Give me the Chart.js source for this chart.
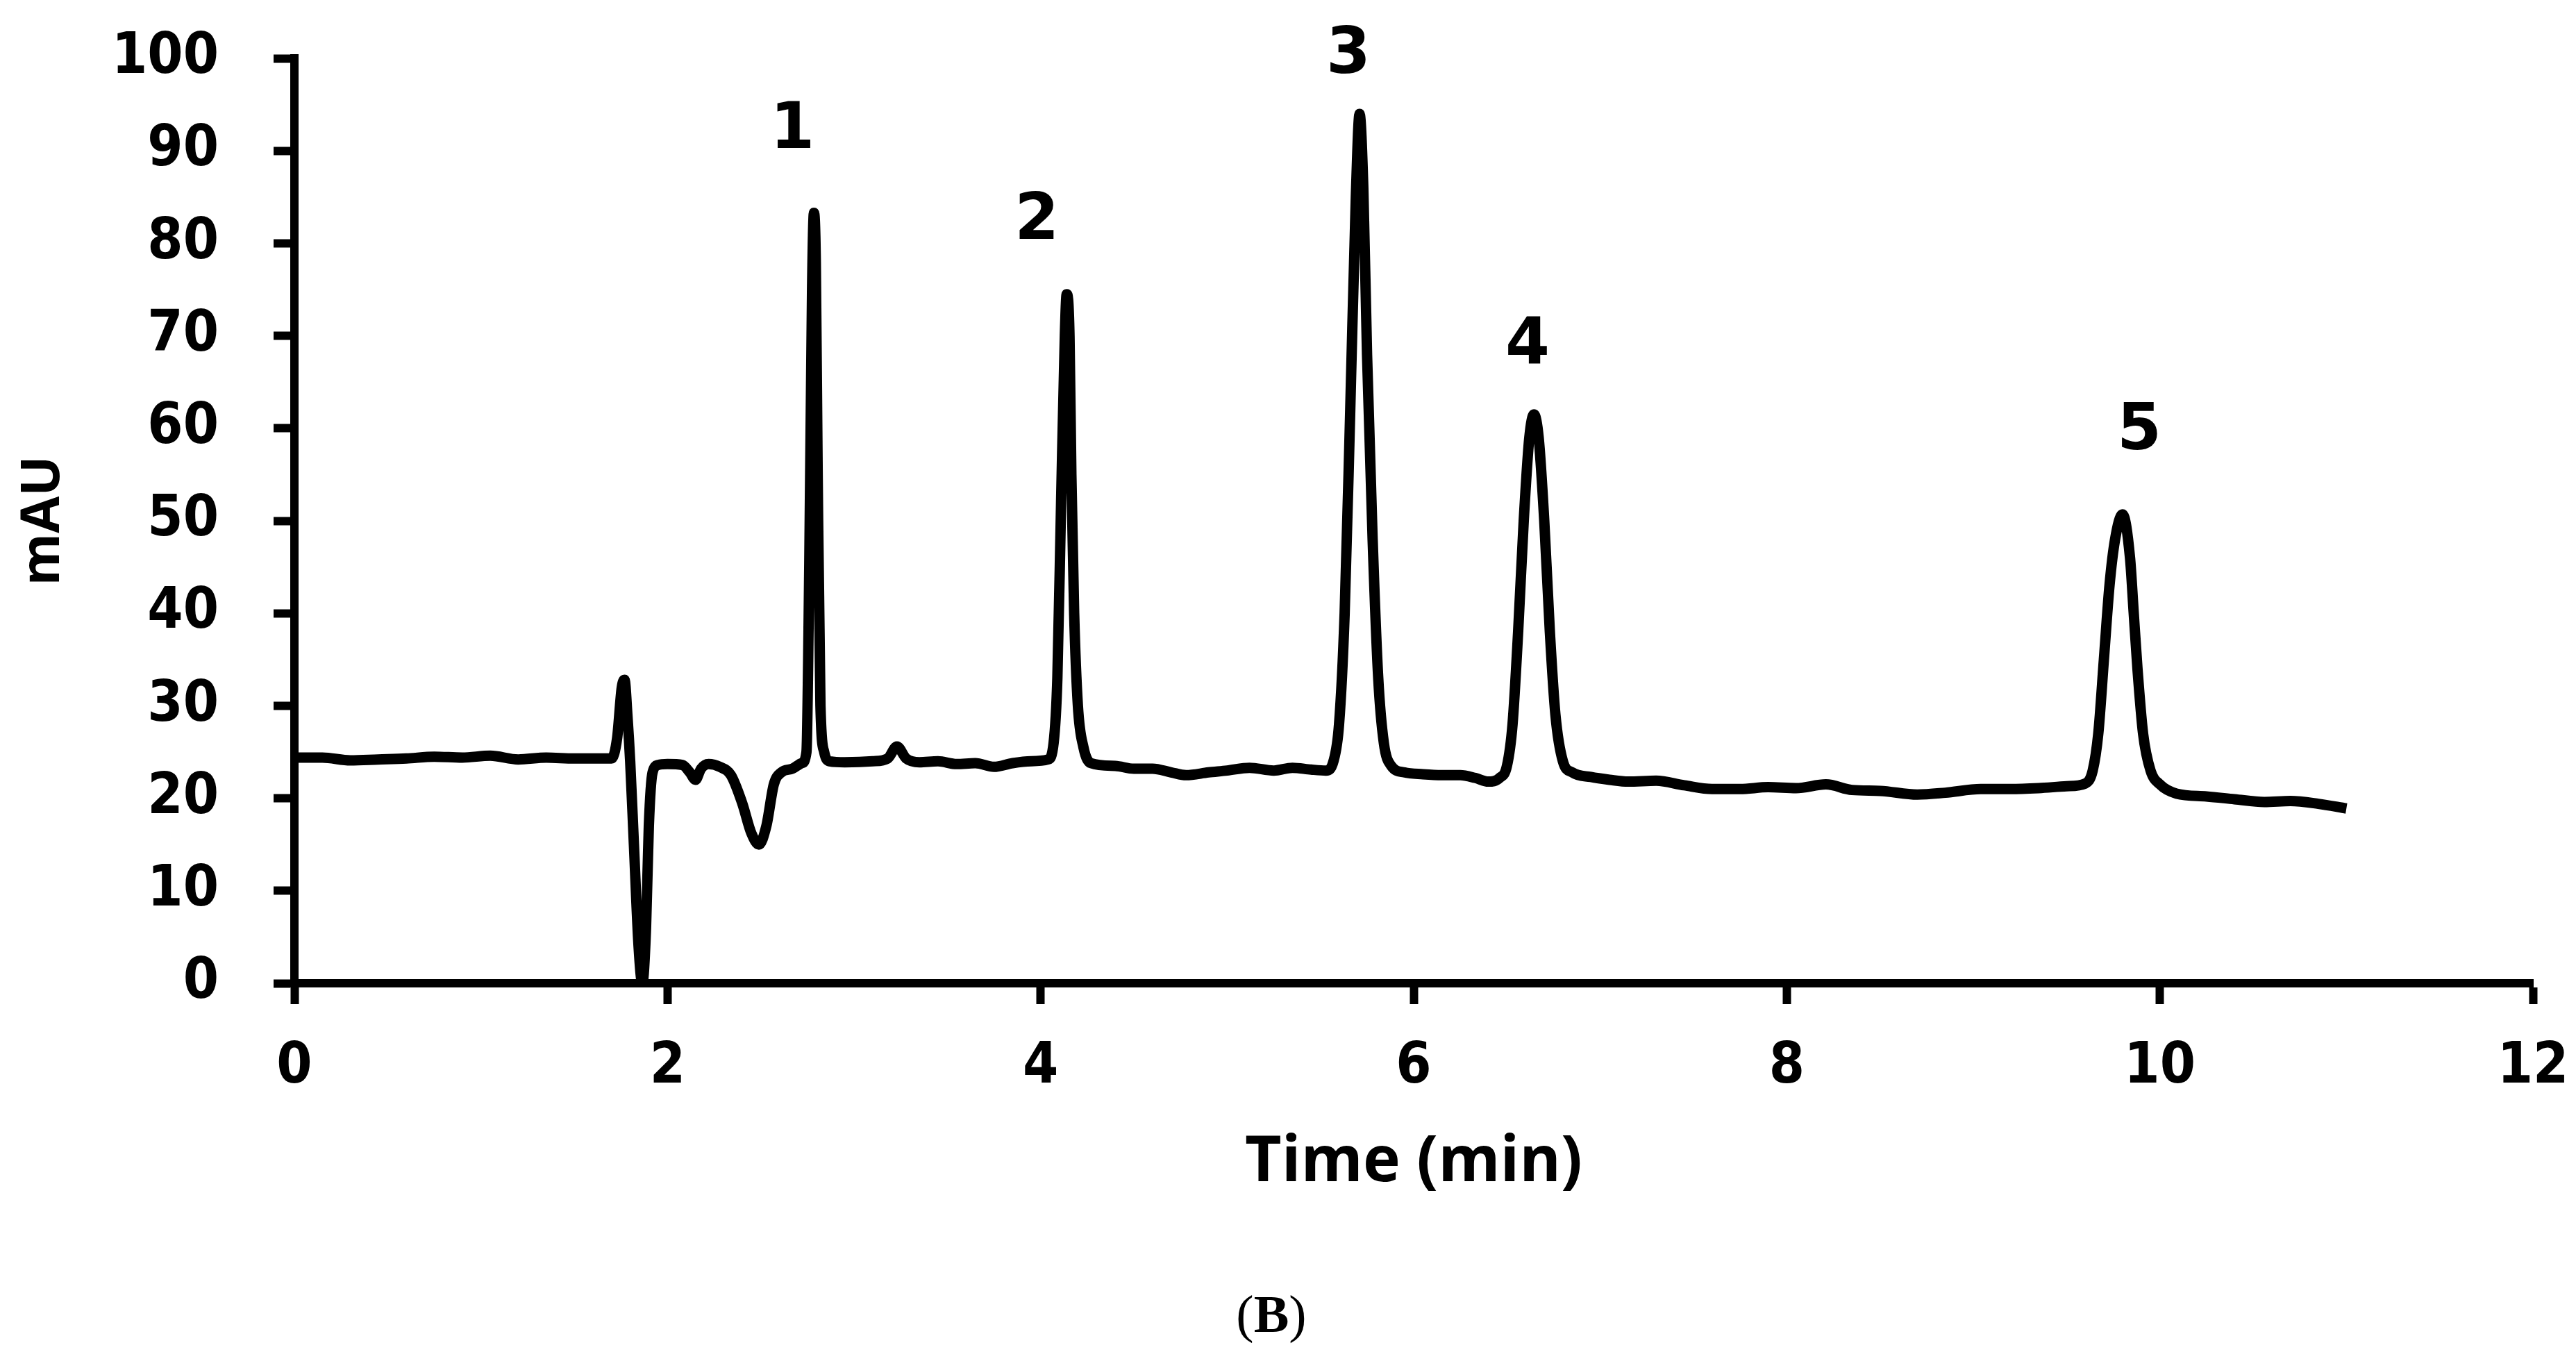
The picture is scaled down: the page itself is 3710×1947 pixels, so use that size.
<!DOCTYPE html>
<html>
<head>
<meta charset="utf-8">
<script src="https://cdn.jsdelivr.net/npm/chart.js@4.4.1/dist/chart.umd.min.js"></script>
<style>
  html, body { margin: 0; padding: 0; background: #fff; }
  #wrap { width: 3710px; height: 1947px; }
</style>
</head>
<body>
<div id="wrap"><canvas id="chromatogram" width="3710" height="1947"></canvas></div>
<script>
// retention time (min) and detector signal (mAU)
const times = [
  0.00, 0.15, 0.30, 0.45, 0.60, 0.75, 0.90, 1.05, 1.20, 1.35, 1.50, 1.62, 1.70,
  1.73, 1.755, 1.77, 1.785, 1.80, 1.82, 1.845, 1.865, 1.885, 1.90, 1.92, 1.95,
  2.00, 2.08, 2.12, 2.15, 2.18, 2.22, 2.28, 2.34, 2.40, 2.45, 2.49, 2.53, 2.57,
  2.61, 2.67, 2.72, 2.745, 2.76, 2.775, 2.785, 2.795, 2.805, 2.82, 2.84, 2.87,
  2.95, 3.10, 3.18, 3.23, 3.28, 3.35, 3.45, 3.55, 3.65, 3.75, 3.85, 3.95, 4.04,
  4.07, 4.09, 4.11, 4.13, 4.14, 4.155, 4.165, 4.18, 4.20, 4.23, 4.27, 4.40,
  4.50, 4.60, 4.70, 4.78, 4.90, 5.00, 5.12, 5.25, 5.35, 5.45, 5.53, 5.57, 5.60,
  5.63, 5.66, 5.69, 5.71, 5.73, 5.75, 5.78, 5.81, 5.84, 5.88, 5.95, 6.05, 6.15,
  6.25, 6.33, 6.40, 6.46, 6.50, 6.53, 6.56, 6.59, 6.62, 6.645, 6.67, 6.70, 6.73,
  6.76, 6.80, 6.85, 6.95, 7.05, 7.15, 7.30, 7.45, 7.60, 7.75, 7.90, 8.05, 8.21,
  8.35, 8.50, 8.70, 8.85, 9.04, 9.20, 9.35, 9.50, 9.60, 9.64, 9.67, 9.70, 9.73,
  9.76, 9.80, 9.84, 9.86, 9.88, 9.91, 9.95, 10.00, 10.09, 10.25, 10.40, 10.56,
  10.70, 10.85, 11.00
];
const mau = [
  24.4, 24.4, 24.1, 24.2, 24.3, 24.5, 24.4, 24.6, 24.2, 24.4, 24.3, 24.3, 24.3,
  26.5, 32.0, 32.8, 29.0, 24.0, 15.0, 4.0, 0.0, 6.0, 17.0, 22.8, 23.6,
  23.7, 23.6, 22.8, 22.0, 23.2, 23.7, 23.4, 22.5, 19.5, 16.2, 15.0, 17.0, 21.5,
  22.8, 23.2, 23.8, 25.0, 45.0, 75.0, 83.3, 78.0, 55.0, 30.0, 25.0, 24.0,
  23.9, 24.0, 24.3, 25.6, 24.3, 23.9, 24.0, 23.7, 23.8, 23.4, 23.8, 24.0, 24.2,
  26.0, 33.0, 52.0, 70.0, 74.5, 70.0, 55.0, 40.0, 30.0, 25.5, 23.8, 23.5,
  23.2, 23.2, 22.8, 22.5, 22.8, 23.0, 23.3, 23.0, 23.3, 23.1, 23.0, 24.0, 28.0,
  40.0, 62.0, 85.0, 94.0, 86.0, 68.0, 48.0, 33.0, 26.0, 23.5, 22.8, 22.6, 22.5,
  22.5, 22.2, 21.8, 22.2, 23.5, 28.0, 38.0, 50.0, 59.0, 61.5, 59.0, 50.0, 38.0,
  29.0, 24.0, 22.8, 22.3, 22.0, 21.8, 21.9, 21.4, 21.0, 21.0, 21.2, 21.1, 21.5,
  20.9, 20.8, 20.4, 20.6, 21.0, 21.0, 21.1, 21.3, 21.6, 23.0, 27.0, 35.0, 43.0,
  48.0, 50.7, 46.0, 40.0, 34.0, 27.0, 23.0, 21.5, 20.5, 20.2, 19.9, 19.6,
  19.7, 19.4, 18.9
];

const xTicks = [0, 2, 4, 6, 8, 10, 12];
const yTicks = [0, 10, 20, 30, 40, 50, 60, 70, 80, 90, 100];

const peakNames = ["1", "2", "3", "4", "5"];
const peakLabelX = [2.67, 3.98, 5.65, 6.61, 9.89];
const peakLabelY = [92.1, 82.3, 100.2, 68.8, 59.5];

const xTitle = "Time (min)";
const yTitle = "mAU";
const panelTag = "B";

const tickFont = { family: "'DejaVu Sans Condensed', 'DejaVu Sans', sans-serif", weight: "bold", size: 82 };

const peakLabels = {
  id: "peakLabels",
  afterDatasetsDraw(chart) {
    const { ctx, scales: { x, y } } = chart;
    ctx.save();
    ctx.fillStyle = "#000";
    ctx.font = "bold 92px 'DejaVu Sans'";
    ctx.textAlign = "center";
    ctx.textBaseline = "middle";
    peakNames.forEach((name, i) => {
      ctx.fillText(name, x.getPixelForValue(peakLabelX[i]), y.getPixelForValue(peakLabelY[i]));
    });
    ctx.restore();
  }
};

// "(B)" under the figure, parentheses regular and letter bold
const panelCaption = {
  id: "panelCaption",
  afterDraw(chart) {
    const { ctx, chartArea } = chart;
    const cx = (chartArea.left + chartArea.right) / 2 - 205;
    const cy = 1898;
    const reg = "76px 'Liberation Serif'";
    const bold = "bold 76px 'Liberation Serif'";
    ctx.save();
    ctx.fillStyle = "#000";
    ctx.textBaseline = "middle";
    ctx.font = reg;
    const wp = ctx.measureText("(").width;
    const wq = ctx.measureText(")").width;
    ctx.font = bold;
    const wb = ctx.measureText(panelTag).width;
    let px = cx - (wp + wb + wq) / 2;
    ctx.font = reg;
    ctx.fillText("(", px, cy);
    px += wp;
    ctx.font = bold;
    ctx.fillText(panelTag, px, cy);
    px += wb;
    ctx.font = reg;
    ctx.fillText(")", px, cy);
    ctx.restore();
  }
};

new Chart(document.getElementById("chromatogram"), {
  type: "line",
  data: {
    datasets: [{
      data: times.map((t, i) => ({ x: t, y: mau[i] })),
      borderColor: "#000",
      borderWidth: 15,
      pointRadius: 0,
      fill: false,
      cubicInterpolationMode: "monotone"
    }]
  },
  options: {
    responsive: false,
    animation: false,
    devicePixelRatio: 1,
    layout: { padding: { left: 0, top: 84, right: 62, bottom: 171 } },
    plugins: {
      legend: { display: false },
      tooltip: { enabled: false }
    },
    scales: {
      x: {
        type: "linear",
        min: 0,
        max: 12,
        afterFit: s => { s.height = 360; s.paddingLeft = 0; s.paddingRight = 0; },
        afterBuildTicks: s => { s.ticks = xTicks.map(v => ({ value: v })); },
        border: { display: true, color: "#000", width: 12 },
        grid: { drawOnChartArea: false, drawTicks: true, tickLength: 30, tickWidth: 12, tickColor: "#000" },
        ticks: { color: "#000", font: tickFont, padding: 43, maxRotation: 0 },
        title: {
          display: true,
          text: xTitle,
          color: "#000",
          font: { family: "'Open Sans', sans-serif", weight: "bold", size: 91 },
          padding: { top: 0, bottom: 46 }
        }
      },
      y: {
        min: 0,
        max: 100,
        afterFit: s => { s.width = 424; s.paddingTop = 0; s.paddingBottom = 0; },
        afterBuildTicks: s => { s.ticks = yTicks.map(v => ({ value: v })); },
        border: { display: true, color: "#000", width: 12 },
        grid: { drawOnChartArea: false, drawTicks: true, tickLength: 30, tickWidth: 12, tickColor: "#000" },
        ticks: { color: "#000", font: tickFont, padding: 79 },
        title: {
          display: true,
          text: yTitle,
          color: "#000",
          font: { family: "'Open Sans', sans-serif", weight: "bold", size: 77 },
          padding: { top: 17, bottom: 0 }
        }
      }
    }
  },
  plugins: [peakLabels, panelCaption]
});
</script>
</body>
</html>
